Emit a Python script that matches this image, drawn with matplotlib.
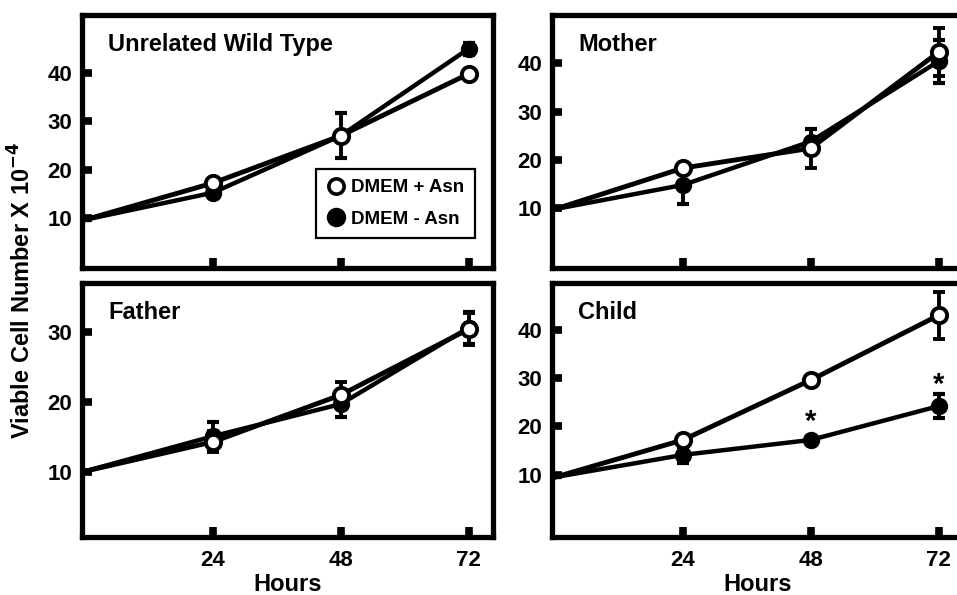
import matplotlib
matplotlib.use("Agg")
import matplotlib.pyplot as plt
from matplotlib.lines import Line2D

plt.rcParams['font.family'] = ['Liberation Sans', 'DejaVu Sans']
plt.rcParams['font.weight'] = 'bold'

hours = [0, 24, 48, 72]
panels = ["Unrelated Wild Type", "Mother", "Father", "Child"]

wt_plus = [9.6, 17.2, 27.0, 39.8]
wt_plus_err = [0.0, 0.8, 1.0, 0.8]
wt_minus = [9.6, 15.2, 27.0, 45.0]
wt_minus_err = [0.0, 0.8, 4.7, 1.2]

mo_plus = [9.8, 18.3, 22.4, 42.3]
mo_plus_err = [0.0, 0.8, 4.0, 5.0]
mo_minus = [9.8, 14.8, 23.8, 40.4]
mo_minus_err = [0.0, 4.0, 2.5, 4.5]

fa_plus = [10.1, 14.3, 21.0, 30.4]
fa_plus_err = [0.0, 1.5, 1.9, 2.3]
fa_minus = [10.1, 15.1, 19.7, 30.6]
fa_minus_err = [0.0, 2.1, 1.9, 2.3]

ch_plus = [9.5, 17.2, 29.6, 43.0]
ch_plus_err = [0.0, 0.8, 0.8, 4.8]
ch_minus = [9.5, 14.1, 17.2, 24.2]
ch_minus_err = [0.0, 1.6, 0.6, 2.5]

ylims = [(-0.4, 52.0), (-2.4, 50.0), (0.7, 37.0), (-2.9, 49.7)]
yticks = [[10, 20, 30, 40], [10, 20, 30, 40], [10, 20, 30], [10, 20, 30, 40]]
xticks = [24, 48, 72]

star_x = [48, 72]
star_y = [21.0, 28.6]

data = [
    (wt_plus, wt_plus_err, wt_minus, wt_minus_err),
    (mo_plus, mo_plus_err, mo_minus, mo_minus_err),
    (fa_plus, fa_plus_err, fa_minus, fa_minus_err),
    (ch_plus, ch_plus_err, ch_minus, ch_minus_err),
]

W, H = 957, 595
fig = plt.figure(figsize=(W / 100, H / 100), dpi=100)

# axes rectangles in pixels: (left, top, right, bottom)
rects = [(82, 15, 493, 268), (552, 15, 963, 268),
         (82, 283, 493, 537), (552, 283, 963, 537)]

axes = []
for i, (l, t, r, b) in enumerate(rects):
    ax = fig.add_axes([l / W, 1 - b / H, (r - l) / W, (b - t) / H])
    axes.append(ax)
    p, pe, m, me = data[i]
    ax.errorbar(hours, m, yerr=me, color='black', lw=3.2, marker='o', ms=11.5,
                markevery=[1, 2, 3],
                mfc='black', mec='black', ecolor='black', elinewidth=2.8,
                capsize=4, capthick=3, zorder=3)
    ax.errorbar(hours, p, yerr=pe, color='black', lw=3.5, marker='o', ms=11,
                markevery=[1, 2, 3],
                mfc='white', mec='black', mew=2.8, ecolor='black', elinewidth=2.8,
                capsize=4, capthick=3, zorder=4)
    ax.set_xlim(-0.6, 76.6)
    ax.set_ylim(*ylims[i])
    ax.set_yticks(yticks[i])
    ax.set_xticks(xticks)
    for s in ax.spines.values():
        s.set_linewidth(3.8)
    ax.tick_params(direction='in', length=7.5, width=5.5, labelsize=16, pad=7)
    ax.tick_params(axis='x', pad=9)
    ax.text(0.063, 0.885, panels[i], transform=ax.transAxes, fontsize=17,
            fontweight='bold', va='center', ha='left')
    if i < 2:
        ax.tick_params(axis='x', labelbottom=False)
    else:
        ax.set_xlabel('Hours', fontsize=17, fontweight='bold', labelpad=2)
    for lab in ax.get_xticklabels() + ax.get_yticklabels():
        lab.set_fontweight('bold')

for sx, sy in zip(star_x, star_y):
    axes[3].text(sx, sy, '*', fontsize=21, fontweight='bold', ha='center', va='center')

handles = [
    Line2D([], [], ls='none', marker='o', ms=11, mfc='white', mec='black', mew=2.6),
    Line2D([], [], ls='none', marker='o', ms=13, mfc='black', mec='black'),
]
leg = axes[0].legend(handles, ['DMEM + Asn', 'DMEM - Asn'], loc='lower right',
                     bbox_to_anchor=(0.956, 0.119), borderaxespad=0, fancybox=False,
                     framealpha=1, edgecolor='black',
                     prop={'size': 13.5, 'weight': 'bold'},
                     handletextpad=0.35, handlelength=1.0, borderpad=0.55,
                     labelspacing=0.75)
leg.get_frame().set_linewidth(1.6)

fig.text(22 / W, 1 - 290 / H, r'Viable Cell Number X 10$^{\mathbf{-4}}$', rotation=90,
         fontsize=17, fontweight='bold', ha='center', va='center')

fig.savefig('out.png', dpi=100)
